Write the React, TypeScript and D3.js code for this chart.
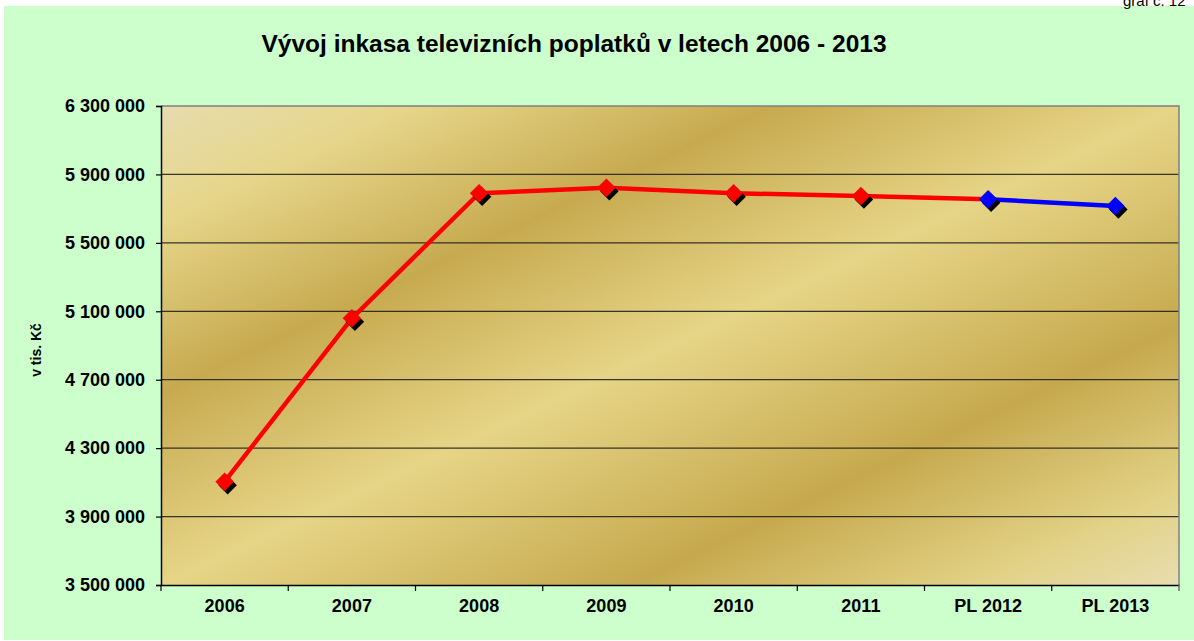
import React, { useEffect, useRef } from 'react';
import * as d3 from 'd3';

// roky na ose x
const years = ['2006', '2007', '2008', '2009', '2010', '2011', 'PL 2012', 'PL 2013'];
// skutečnost (tis. Kč)
const collected = [4104000, 5059000, 5790000, 5822000, 5790000, 5774000];
// plán
const planned = [5755000, 5715000];
const yTicks = [3500000, 3900000, 4300000, 4700000, 5100000, 5500000, 5900000, 6300000];

const chartTitle = 'Vývoj inkasa televizních poplatků v letech 2006 - 2013';
const yTitle = 'v tis. Kč';
const cornerNote = 'graf č. 12';

const W = 1194;
const H = 641;
const FONT = 'Arial, "Liberation Sans", sans-serif';

const App = () => {
  const svgRef = useRef(null);

  useEffect(() => {
    const svg = d3.select(svgRef.current);
    svg.selectAll('*').remove();

    const plot = { left: 161, top: 106, right: 1179, bottom: 585 };

    const x = d3.scaleBand().domain(years).range([plot.left, plot.right]).padding(0);
    const y = d3.scaleLinear().domain([3500000, 6300000]).range([plot.bottom, plot.top]);

    // background
    svg.append('rect').attr('x', 4).attr('y', 6).attr('width', W - 4).attr('height', 634).attr('fill', '#ccffcc');

    // corner note (partly above the page, as in the source)
    svg.append('text')
      .attr('x', 1123).attr('y', 6)
      .attr('font-family', FONT).attr('font-size', 15)
      .text(cornerNote);

    // gold gradient
    const defs = svg.append('defs');
    const grad = defs.append('linearGradient').attr('id', 'gold')
      .attr('x1', 0).attr('y1', 0).attr('x2', 1).attr('y2', 1);
    [[0, '#e6dcae'], [0.12, '#e6d68b'], [0.3, '#c7aa50'], [0.5, '#e6d587'], [0.73, '#c6a94e'], [0.9, '#e2d286'], [1, '#e8ddb0']]
      .forEach(([o, c]) => grad.append('stop').attr('offset', o).attr('stop-color', c));

    svg.append('rect')
      .attr('x', plot.left).attr('y', plot.top)
      .attr('width', plot.right - plot.left).attr('height', plot.bottom - plot.top)
      .attr('fill', 'url(#gold)');

    // gridlines
    svg.append('g').selectAll('line')
      .data(yTicks.slice(1, -1))
      .join('line')
      .attr('x1', plot.left).attr('x2', plot.right)
      .attr('y1', d => y(d)).attr('y2', d => y(d))
      .attr('stroke', '#1a1a1a').attr('stroke-width', 1.2).attr('stroke-opacity', 0.85);

    // top + right border
    svg.append('path')
      .attr('d', `M${plot.left},${plot.top}H${plot.right}V${plot.bottom + 6}`)
      .attr('fill', 'none').attr('stroke', '#808080').attr('stroke-width', 1.5);

    // y axis
    const yAxis = svg.append('g')
      .attr('transform', `translate(${plot.left},0)`)
      .call(d3.axisLeft(y).tickValues(yTicks).tickSize(5).tickPadding(11)
        .tickFormat(d => d3.format(',')(d).replace(/,/g, ' ')));
    yAxis.select('.domain').attr('stroke', '#000').attr('stroke-width', 1.5);
    yAxis.selectAll('.tick line').attr('stroke', '#000').attr('stroke-width', 1.2);
    yAxis.selectAll('text')
      .attr('font-family', FONT).attr('font-size', 18).attr('font-weight', 'bold').attr('fill', '#000');

    // x axis
    const xAxis = svg.append('g')
      .attr('transform', `translate(0,${plot.bottom})`)
      .call(d3.axisBottom(x).tickSize(0).tickPadding(14).tickSizeOuter(0));
    xAxis.select('.domain').attr('stroke', '#000').attr('stroke-width', 1.5);
    xAxis.selectAll('text')
      .attr('font-family', FONT).attr('font-size', 18).attr('font-weight', 'bold').attr('fill', '#000');
    svg.append('g').selectAll('line')
      .data(years.map(d => x(d)).concat([plot.right]))
      .join('line')
      .attr('x1', d => d).attr('x2', d => d)
      .attr('y1', plot.bottom).attr('y2', plot.bottom + 6)
      .attr('stroke', (d, i) => (i === years.length ? '#808080' : '#000')).attr('stroke-width', 1.2);

    // lines
    const cx = i => x(years[i]) + x.bandwidth() / 2;
    const line = d3.line().x(d => cx(d.i)).y(d => y(d.v));
    const redPts = collected.concat([planned[0]]).map((v, i) => ({ i, v }));
    const bluePts = planned.map((v, k) => ({ i: collected.length + k, v }));

    svg.append('path').datum(redPts).attr('d', line)
      .attr('fill', 'none').attr('stroke', '#ff0000').attr('stroke-width', 4.5).attr('stroke-linejoin', 'round');
    svg.append('path').datum(bluePts).attr('d', line)
      .attr('fill', 'none').attr('stroke', '#0000ff').attr('stroke-width', 4.5).attr('stroke-linejoin', 'round');

    // markers
    const marker = d3.symbol(d3.symbolSquare, 170);
    const pts = collected.map((v, i) => ({ i, v, c: '#ff0000' }))
      .concat(planned.map((v, k) => ({ i: collected.length + k, v, c: '#0000ff' })));
    const mk = svg.append('g');
    mk.selectAll('path.shadow').data(pts).join('path')
      .attr('class', 'shadow')
      .attr('d', marker)
      .attr('transform', d => `translate(${cx(d.i) + 3},${y(d.v) + 3.5}) rotate(45)`)
      .attr('fill', '#000');
    mk.selectAll('path.dot').data(pts).join('path')
      .attr('class', 'dot')
      .attr('d', marker)
      .attr('transform', d => `translate(${cx(d.i)},${y(d.v)}) rotate(45)`)
      .attr('fill', d => d.c);

    // titles
    svg.append('text')
      .attr('x', 574).attr('y', 52)
      .attr('text-anchor', 'middle')
      .attr('font-family', FONT).attr('font-size', 24.5).attr('font-weight', 'bold')
      .text(chartTitle);

    svg.append('text')
      .attr('transform', `translate(41,350) rotate(-90)`)
      .attr('text-anchor', 'middle')
      .attr('font-family', FONT).attr('font-size', 14).attr('font-weight', 'bold')
      .text(yTitle);
  }, []);

  return (
    <svg ref={svgRef} width={W} height={H} viewBox={`0 0 ${W} ${H}`}
      style={{ position: 'absolute', left: 0, top: 0, background: '#fff' }}>
    </svg>
  );
};

export default App;
